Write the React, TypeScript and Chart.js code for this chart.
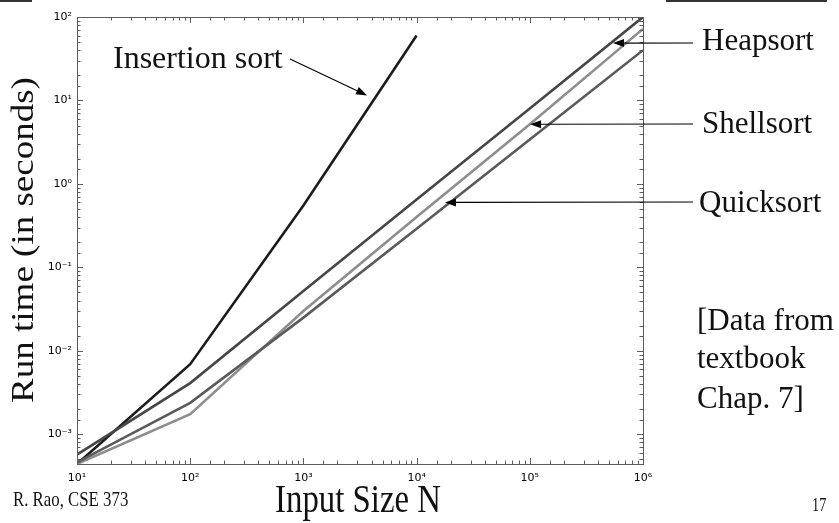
import React, { useEffect, useRef } from "react";
import { Chart, registerables } from "chart.js";

Chart.register(...registerables);

// ---- data ----
const inputSizes = [10, 100, 1000, 10000, 100000, 1000000];
const insertionSizes = [10, 100, 1000, 10000];
const insertionSort = [0.00044, 0.0069, 0.55, 60];
const heapsort = [0.00057, 0.0041, 0.052, 0.65, 8.0, 100];
const shellsort = [0.00044, 0.00174, 0.03, 0.4, 5.2, 72];
const quicksort = [0.00046, 0.00238, 0.025, 0.29, 3.4, 40];

const xDecades = [1, 2, 3, 4, 5, 6];
const xTickLabels = ["10¹", "10²", "10³", "10⁴", "10⁵", "10⁶"];
const yDecades = [-3, -2, -1, 0, 1, 2];
const yTickLabels = ["10⁻³", "10⁻²", "10⁻¹", "10⁰", "10¹", "10²"];

// annotation labels with arrow heads given in data coordinates
const annotationLabels = ["Insertion sort", "Heapsort", "Shellsort", "Quicksort"];
const annotationHeadX = [3650, 543000, 100500, 17800];
const annotationHeadY = [11.5, 48.7, 5.18, 0.6];

const SERIF = '"Liberation Serif", "Times New Roman", serif';

function decadeIndex(value: number, decades: number[]) {
  const e = Math.log10(value);
  const r = Math.round(e);
  if (Math.abs(e - r) < 1e-6) return decades.indexOf(r);
  return -1;
}

function drawArrow(ctx: CanvasRenderingContext2D, x0: number, y0: number, x1: number, y1: number) {
  const ang = Math.atan2(y1 - y0, x1 - x0);
  const L = 11, W = 4;
  const bx = x1 - L * Math.cos(ang), by = y1 - L * Math.sin(ang);
  ctx.beginPath();
  ctx.moveTo(x0, y0);
  ctx.lineTo(bx, by);
  ctx.stroke();
  ctx.beginPath();
  ctx.moveTo(x1, y1);
  ctx.lineTo(bx + W * Math.sin(ang), by - W * Math.cos(ang));
  ctx.lineTo(bx - W * Math.sin(ang), by + W * Math.cos(ang));
  ctx.closePath();
  ctx.fill();
}

const decorPlugin = {
  id: "decor",
  afterDraw(chart: any) {
    const { ctx, chartArea: a, scales } = chart;
    const xs = scales.x, ys = scales.y;
    ctx.save();

    // inward ticks on all four sides
    ctx.strokeStyle = "#5c5c5c";
    ctx.lineWidth = 1;
    ctx.beginPath();
    xs.ticks.forEach((t: any) => {
      const px = Math.round(xs.getPixelForValue(t.value)) + 0.5;
      const len = decadeIndex(t.value, xDecades) >= 0 ? 6 : 3.5;
      ctx.moveTo(px, a.bottom);
      ctx.lineTo(px, a.bottom - len);
      ctx.moveTo(px, a.top);
      ctx.lineTo(px, a.top + len);
    });
    ys.ticks.forEach((t: any) => {
      const py = Math.round(ys.getPixelForValue(t.value)) + 0.5;
      const len = decadeIndex(t.value, yDecades) >= 0 ? 6 : 3.5;
      ctx.moveTo(a.left, py);
      ctx.lineTo(a.left + len, py);
      ctx.moveTo(a.right, py);
      ctx.lineTo(a.right - len, py);
    });
    ctx.stroke();
    ctx.strokeRect(Math.round(a.left) + 0.5, Math.round(a.top) + 0.5, Math.round(a.right - a.left), Math.round(a.bottom - a.top));

    // annotations
    const tails = [[290, 59], [693, 43], [693, 124], [693, 202]];
    const textPos = [[113, 68], [702, 50], [702, 133], [699, 212]];
    ctx.strokeStyle = "#000";
    ctx.lineWidth = 1.2;
    annotationLabels.forEach((lab, i) => {
      const hx = xs.getPixelForValue(annotationHeadX[i]);
      const hy = ys.getPixelForValue(annotationHeadY[i]);
      ctx.fillStyle = "#000";
      drawArrow(ctx, tails[i][0], tails[i][1], hx, hy);
      ctx.font = `${i === 0 ? 32 : 31}px ${SERIF}`;
      ctx.textAlign = "left";
      ctx.textBaseline = "alphabetic";
      ctx.fillStyle = "#111";
      ctx.fillText(lab, textPos[i][0], textPos[i][1]);
    });

    // side note
    ctx.font = `31px ${SERIF}`;
    ctx.fillStyle = "#111";
    ctx.fillText("[Data from", 697, 330);
    ctx.fillText("textbook", 697, 368);
    ctx.fillText("Chap. 7]", 697, 408);

    // axis titles (slightly condensed like the reference)
    ctx.save();
    ctx.translate(25, 240);
    ctx.rotate(-Math.PI / 2);
    ctx.scale(1, 0.85);
    ctx.font = `37px ${SERIF}`;
    ctx.textAlign = "center";
    ctx.textBaseline = "middle";
    ctx.fillText("Run time (in seconds)", 0, 0);
    ctx.restore();

    ctx.save();
    ctx.translate(358, 512);
    ctx.scale(0.82, 1);
    ctx.font = `40px ${SERIF}`;
    ctx.textAlign = "center";
    ctx.textBaseline = "alphabetic";
    ctx.fillText("Input Size N", 0, 0);
    ctx.restore();

    ctx.save();
    ctx.translate(13, 506);
    ctx.scale(0.8, 1);
    ctx.font = `21px ${SERIF}`;
    ctx.textAlign = "left";
    ctx.fillText("R. Rao, CSE 373", 0, 0);
    ctx.restore();

    ctx.save();
    ctx.translate(812, 511);
    ctx.scale(0.75, 1);
    ctx.font = `19px ${SERIF}`;
    ctx.textAlign = "left";
    ctx.fillText("17", 0, 0);
    ctx.restore();

    // slide border fragments at the top
    ctx.strokeStyle = "#333";
    ctx.lineWidth = 2;
    ctx.beginPath();
    ctx.moveTo(0, 1);
    ctx.lineTo(32, 1);
    ctx.moveTo(666, 1);
    ctx.lineTo(827, 1);
    ctx.stroke();

    ctx.restore();
  },
};

function series(xs: number[], ys: number[]) {
  return xs.map((x, i) => ({ x, y: ys[i] }));
}

export default function App() {
  const ref = useRef<HTMLCanvasElement>(null);
  useEffect(() => {
    const canvas = ref.current!;
    const common = { pointRadius: 0, borderWidth: 2.6, tension: 0, fill: false };
    const chart = new Chart(canvas, {
      type: "line",
      data: {
        datasets: [
          { label: "Quicksort", data: series(inputSizes, quicksort), borderColor: "#5a5a5a", ...common },
          { label: "Shellsort", data: series(inputSizes, shellsort), borderColor: "#8e8e8e", ...common },
          { label: "Heapsort", data: series(inputSizes, heapsort), borderColor: "#464646", ...common },
          { label: "Insertion sort", data: series(insertionSizes, insertionSort), borderColor: "#1c1c1c", ...common },
        ],
      },
      options: {
        responsive: false,
        animation: false,
        layout: { padding: { top: 17, right: 196, left: 0, bottom: 0 } },
        plugins: {
          legend: { display: false },
          tooltip: { enabled: false },
          title: { display: false },
        },
        scales: {
          x: {
            type: "logarithmic",
            min: 10,
            max: 1000000,
            grid: { display: false, drawTicks: false },
            border: { display: false },
            ticks: {
              autoSkip: false,
              maxRotation: 0,
              padding: 8,
              color: "#000",
              font: { family: '"DejaVu Sans", sans-serif', size: 11 },
              callback: (v: any) => {
                const i = decadeIndex(Number(v), xDecades);
                return i >= 0 ? xTickLabels[i] : "";
              },
            },
            afterFit: (s: any) => {
              s.height = 59;
            },
          },
          y: {
            type: "logarithmic",
            min: 0.00044,
            max: 100,
            grid: { display: false, drawTicks: false },
            border: { display: false },
            ticks: {
              autoSkip: false,
              padding: 5,
              color: "#000",
              font: { family: '"DejaVu Sans", sans-serif', size: 11 },
              callback: (v: any) => {
                const i = decadeIndex(Number(v), yDecades);
                return i >= 0 ? yTickLabels[i] : "";
              },
            },
            afterFit: (s: any) => {
              s.width = 77;
            },
          },
        },
      } as any,
      plugins: [decorPlugin],
    });
    return () => chart.destroy();
  }, []);
  return (
    <div style={{ position: "fixed", left: 0, top: 0, width: 839, height: 523, background: "#fff" }}>
      <canvas ref={ref} width={839} height={523} style={{ display: "block" }} />
    </div>
  );
}
